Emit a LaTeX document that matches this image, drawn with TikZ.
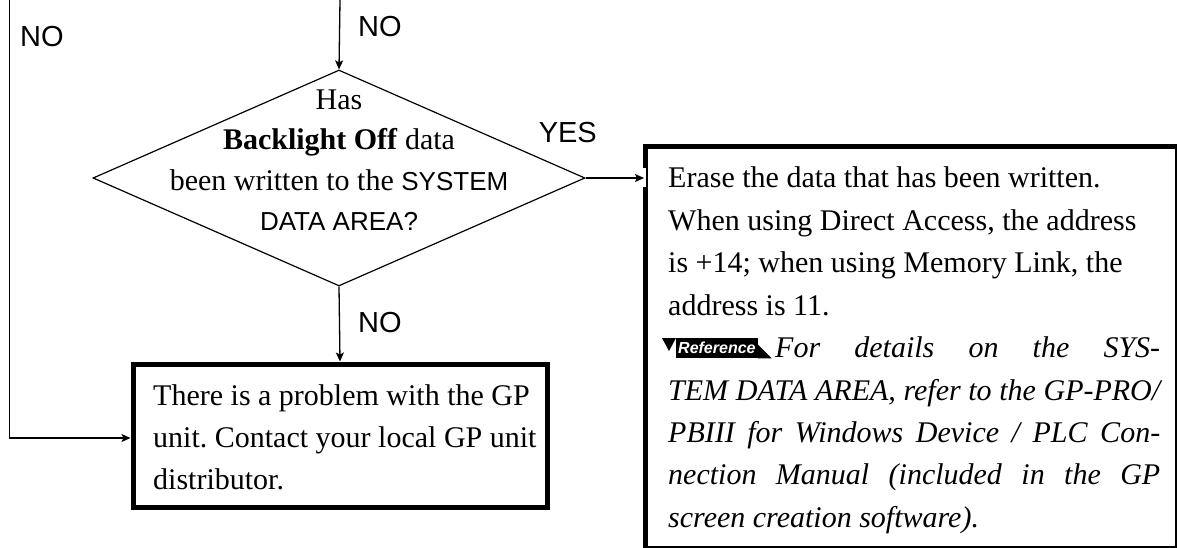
\documentclass[tikz,border=0pt]{standalone}
\usepackage{fontspec}
\setmainfont{Liberation Serif}
\setsansfont{Liberation Sans}
\usetikzlibrary{shapes.geometric,arrows.meta}
\frenchspacing
\begin{document}
\begin{tikzpicture}[x=1pt,y=-1pt,
  conn/.style={line width=1.3pt,-{Stealth[length=9pt,width=8pt,inset=2pt]}},
  lbl/.style={font=\sffamily\fontsize{29}{34}\selectfont,inner sep=0pt},
  txt/.style={font=\fontsize{30}{42.4}\selectfont,inner sep=0pt,anchor=base west},
  itxt/.style={font=\itshape\fontsize{30}{42.4}\selectfont,inner sep=0pt,anchor=base west},
  dtxt/.style={font=\fontsize{30}{42.4}\selectfont,inner sep=0pt,anchor=base},
  sftxt/.style={font=\sffamily\fontsize{26}{30}\selectfont},
]
\useasboundingbox (0,0) rectangle (1177,548);
\fill[white] (0,0) rectangle (1177,548);

% decision
\node[diamond,draw,line width=1.2pt,minimum width=492pt,minimum height=216pt,inner sep=0pt] (dec) at (339,178) {};
\node[dtxt] (d1) at (339,110) {Has};
\node[dtxt] (d2) at (339,150) {\textbf{Backlight Off} data};
\node[dtxt] (d3) at (339,190) {been written to the {\sffamily\fontsize{26}{30}\selectfont SYSTEM}};
\node[dtxt] (d4) at (339,230) {{\sffamily\fontsize{26}{30}\selectfont DATA AREA?}};

% boxes
\node[draw,line width=5pt,minimum width=414pt,minimum height=143pt,anchor=north west,inner sep=0pt] (box1) at (130.5,361.5) {};
\node[draw,line width=2pt,minimum width=529pt,minimum height=399pt,anchor=north west,inner sep=0pt] (box2) at (645.5,146.5) {};
\draw[line width=5pt] (box2.south west) -- (box2.north west) -- ([xshift=1pt]box2.north east);

% notches
\fill[white] (128,428) rectangle (131,447);
\fill[white] (332,358) rectangle (348,361);
\fill[white] (643,168) rectangle (646,187);

% connectors
\coordinate (topin) at (340,0);
\coordinate (leftin) at (9.5,0);
\coordinate (lefty) at (0,438);
\draw[conn] (topin) -- (dec.north);
\draw[conn] (dec.south) -- (box1.north);
\draw[conn] (dec.east) -- ([xshift=-1.5pt]box2.west |- dec.east);
\draw[conn] (leftin) |- (box1.west |- lefty);

% labels
\node[lbl,anchor=base west] (no1) at (20,47) {NO};
\node[lbl,anchor=base west] (no2) at (358,37) {NO};
\node[lbl,anchor=base west] (no3) at (358,332) {NO};
\node[lbl,anchor=base east] (yes) at (597,143) {YES};

% box1 text
\node[txt] (t1a) at (153,405) {There is a problem with the GP};
\node[txt] (t1b) at (153,447.4) {unit. Contact your local GP unit};
\node[txt] (t1c) at (153,489.8) {distributor.};

% box2 text
\node[txt] (t2a) at (668,188) {Erase the data that has been written.};
\node[txt] (t2b) at (668,230.4) {When using Direct Access, the address};
\node[txt] (t2c) at (668,272.8) {is +14; when using Memory Link, the};
\node[txt] (t2d) at (668,315.2) {address is 11.};
% reference icon
\fill (662,338) -- (676,338) -- (669,351) -- cycle;
\node[fill=black,text=white,font=\sffamily\bfseries\itshape\fontsize{16}{16}\selectfont,inner xsep=2pt,inner ysep=2pt,minimum height=20pt,anchor=north west] (refic) at (676,338) {Reference};
\fill (refic.south east) -- ++(14,0) -- ++(-14,-14) -- cycle;
\node[itxt] (t2e) at (775,357.6) {\makebox[385pt][s]{For details on the SYS-}};
\node[itxt] (t2f) at (668,400) {\makebox[492pt][s]{TEM DATA AREA, refer to the GP-PRO/}};
\node[itxt] (t2g) at (668,442.4) {\makebox[492pt][s]{PBIII for Windows Device / PLC Con-}};
\node[itxt] (t2h) at (668,484.8) {\makebox[492pt][s]{nection Manual (included in the GP}};
\node[itxt] (t2i) at (668,527.2) {screen creation software).};
\end{tikzpicture}
\end{document}
